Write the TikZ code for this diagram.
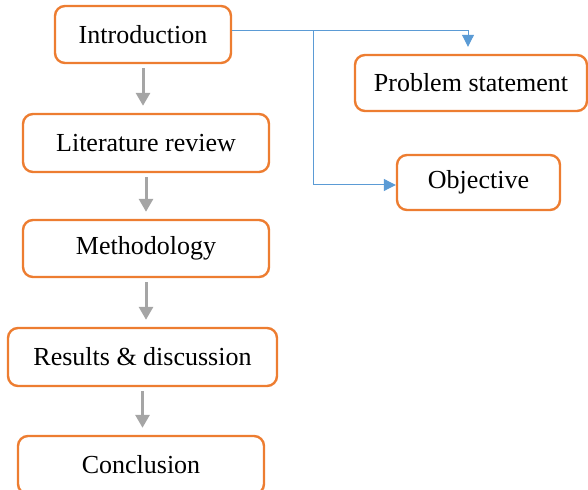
\documentclass[tikz,border=0pt]{standalone}
\usepackage{fontspec}
\setmainfont{Liberation Serif}
\usetikzlibrary{arrows.meta,positioning}

\definecolor{boxorange}{RGB}{237,125,49}
\definecolor{stepgray}{RGB}{165,165,165}
\definecolor{linkblue}{RGB}{91,155,213}

\tikzset{
  box/.style={draw=boxorange,line width=1.2pt,rounded corners=5pt,fill=white,
              font=\fontsize{13}{15}\selectfont,inner sep=0pt},
  flow/.style={draw=stepgray,line width=1.5pt,-{Triangle[length=6.5pt,width=7pt]},
               shorten <=2pt,shorten >=3.5pt},
  link/.style={draw=linkblue,line width=0.5pt,-{Triangle[length=6pt,width=6pt]}}
}

\begin{document}
\begin{tikzpicture}[x=0.5pt,y=-0.5pt]

    \clip (0,0) rectangle (588,490);

    \node[box,minimum width=88pt,minimum height=28.5pt] (intro) at (143,34.5) {Introduction};
    \node[box,minimum width=123pt,minimum height=29pt] (lit) at (146,143) {Literature review};
    \node[box,minimum width=123pt,minimum height=28.5pt] (meth) at (146,248.5) {Methodology};
    \node[box,minimum width=134.5pt,minimum height=29pt] (res) at (142.5,357) {Results \& discussion};
    \node[box,minimum width=123pt,minimum height=29pt] (conc) at (141,465) {Conclusion};

    \node[box,minimum width=116pt,minimum height=28pt] (prob) at (471,83) {Problem statement};
    \node[box,minimum width=81.5pt,minimum height=27.5pt] (obj) at (478.5,182.5) {Objective};

    % main sequence
    \draw[flow] (intro.south) -- (intro.south |- lit.north);
    \draw[flow] (lit.south) -- (lit.south |- meth.north);
    \draw[flow] (meth.south) -- (meth.south |- res.north);
    \draw[flow] (res.south) -- (res.south |- conc.north);

    % side branches
    \coordinate (fork) at (313,31);
    \draw[link,shorten >=3.5pt] (intro.east |- fork) -| ([xshift=-1.5pt]prob.north);
    \draw[link] (fork) |- ([yshift=-1.25pt]obj.west);

\end{tikzpicture}
\end{document}
